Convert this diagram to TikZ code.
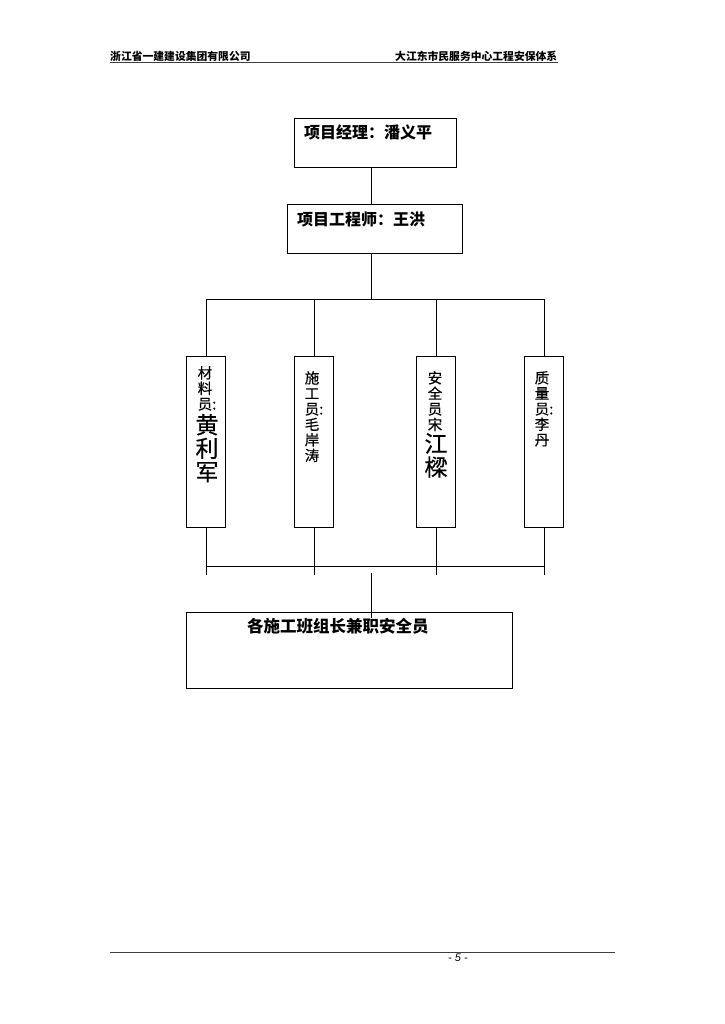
\documentclass[tikz,border=0pt]{standalone}
\usepackage{fontspec}
\newfontfamily\cjk{Noto Sans CJK SC}
\newfontfamily\cjkv{Noto Sans CJK SC}[FakeBold=0.5]
\newfontfamily\lat{Liberation Sans}
\usetikzlibrary{positioning}

\begin{document}
\begin{tikzpicture}[x=1pt,y=-1pt,
  font=\cjk,
  box/.style={rectangle,draw,line width=1.1pt,inner sep=0pt,anchor=north west},
  vbox/.style={box,minimum width=39,minimum height=171},
  head/.style={font=\cjk\bfseries\fontsize{16}{18}\selectfont,anchor=west,inner sep=0pt},
  vtxt/.style={font=\cjkv\fontsize{14.5}{15.5}\selectfont,align=center,anchor=north,inner sep=0pt},
  vbig/.style={font=\cjkv\fontsize{23}{23.5}\selectfont,align=center,anchor=north,inner sep=0pt},
  conn/.style={draw,line width=0.9pt},
  page/.style={font=\cjk\bfseries\fontsize{10.8}{12}\selectfont,anchor=west,inner sep=0pt}
]
\useasboundingbox (0,0) rectangle (724,1024);

% --- page header and footer
\node[page] (firm)  at (110,56) {浙江省一建建设集团有限公司};
\node[page] (title) at (395,56) {大江东市民服务中心工程安保体系};
\coordinate (hl) at (110,62);
\coordinate (hr) at (558,62);
\draw[line width=0.8pt,black!75] (hl) -- (hr);
\coordinate (fl) at (110,952);
\coordinate (fr) at (615,952);
\draw[line width=0.8pt,black!75] (fl) -- (fr);
\node[font=\lat\itshape\fontsize{11}{12}\selectfont,inner sep=0pt] (pgno) at (458,958) {- 5 -};

% --- managers
\node[box,minimum width=162,minimum height=49] (pm)  at (294,118) {};
\node[head] (pmtxt) at (304,132) {项目经理：潘义平};
\node[box,minimum width=175,minimum height=49] (eng) at (287,204) {};
\node[head] (engtxt) at (297,219) {项目工程师：王洪};

% --- staff
\node[vbox] (mat) at (186,356) {};
\node[vbox] (con) at (294,356) {};
\node[vbox] (saf) at (416,356) {};
\node[vbox] (qua) at (524,356) {};

\node[vtxt] (mat1) at (205,366) {材\\料\\员\rlap{:}};
\node[vbig] (mat2) at (207,414) {黄\\利\\军};
\node[vtxt] (con1) at (312,371) {施\\工\\员\rlap{:}\\毛\\岸\\涛};
\node[vtxt] (saf1) at (435,371) {安\\全\\员\\宋};
\node[vbig] (saf2) at (436,433) {江\\樑};
\node[vtxt] (qua1) at (542,371) {质\\量\\员\rlap{:}\\李\\丹};

% --- team leaders
\node[box,minimum width=326,minimum height=76] (team) at (186,612) {};
\node[head,font=\cjk\bfseries\fontsize{16.5}{18}\selectfont] (teamtxt) at (247,626) {各施工班组长兼职安全员};

% --- connectors
\coordinate (topbus) at (371,299);
\coordinate (lowbus) at (371,566);
\coordinate (tick)   at (371,575);
\coordinate (gap)    at (371,573);
\coordinate (gapend) at (371,618);

\draw[conn] (pm.south -| topbus) -- (eng.north -| topbus);
\draw[conn] (eng.south -| topbus) -- (topbus);
\draw[conn] (mat.north |- topbus) -- (qua.north |- topbus);
\foreach \n in {mat,con,saf,qua}{
  \draw[conn] (\n.north |- topbus) -- (\n.north);
  \draw[conn] (\n.south) -- (\n.south |- tick);
}
\draw[conn] (mat.south |- lowbus) -- (qua.south |- lowbus);
\draw[conn] (gap) -- (gapend);
\end{tikzpicture}
\end{document}
